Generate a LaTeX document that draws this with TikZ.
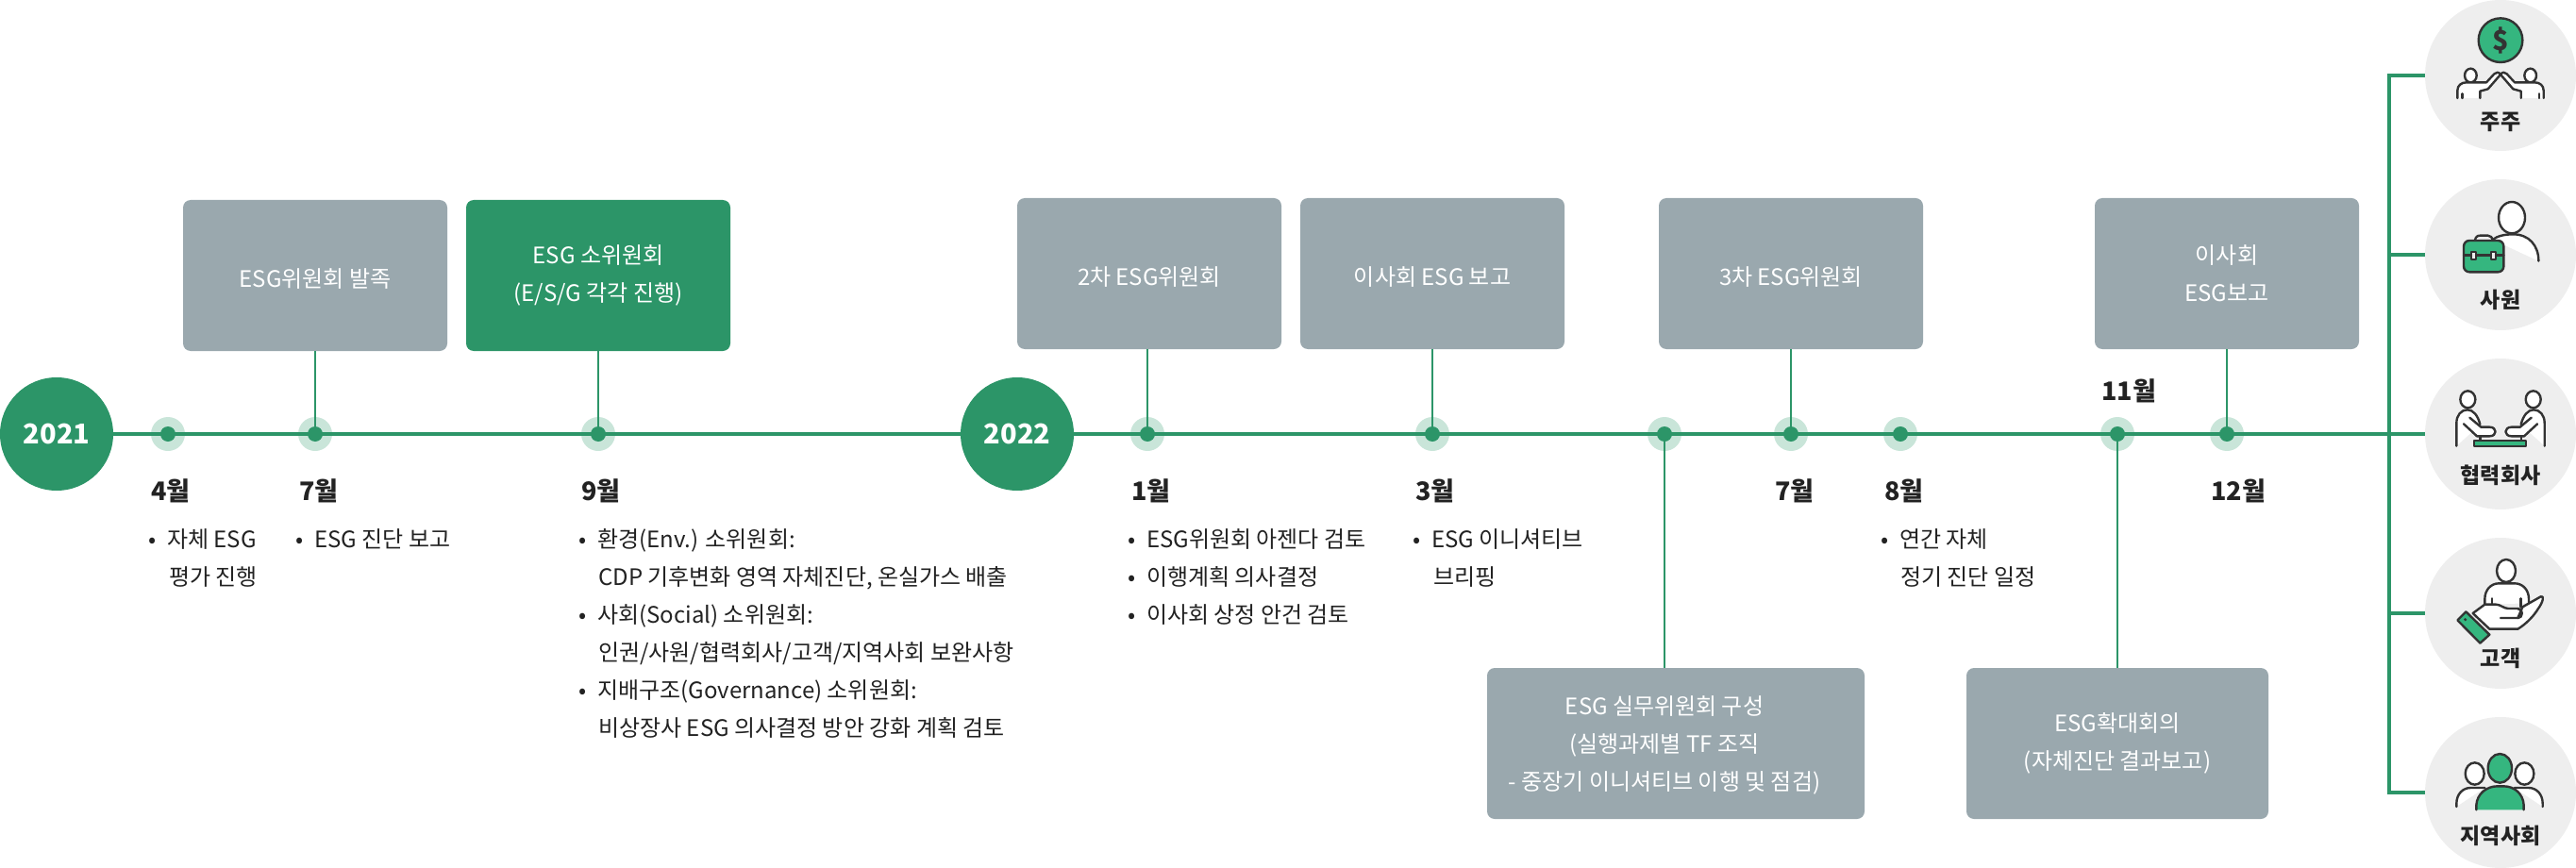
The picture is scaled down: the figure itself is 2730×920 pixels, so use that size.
\documentclass[tikz,border=0pt]{standalone}
\usepackage{fontspec}
\setmainfont{Noto Sans CJK KR}
\definecolor{lineg}{HTML}{2C9568}
\definecolor{haloc}{HTML}{C9E5D9}
\definecolor{boxg}{HTML}{9AA8AE}
\definecolor{circ}{HTML}{EEEEEE}
\definecolor{icong}{HTML}{35B67F}
\definecolor{icons}{HTML}{333333}
\definecolor{inkc}{HTML}{222222}
\tikzset{
  evbox/.style={draw=none,fill=boxg,rounded corners=8pt,minimum width=280pt,minimum height=160pt,inner sep=0pt,text=white,align=center,font=\fontsize{24}{40}\selectfont,execute at begin node={\rule{0pt}{26pt}}},
  evgreen/.style={evbox,fill=lineg},
  boxlab/.style={inner sep=0pt,text=white,align=center,font=\fontsize{24}{40}\selectfont},
  yearc/.style={circle,fill=lineg,minimum size=120pt,inner sep=0pt,text=white,font=\fontsize{29}{36}\selectfont\bfseries},
  halo/.style={circle,fill=haloc,minimum size=36pt,inner sep=0pt},
  dotc/.style={circle,fill=lineg,minimum size=16pt,inner sep=0pt},
  mainl/.style={draw=lineg,line width=4pt},
  conn/.style={draw=lineg,line width=2pt},
  month/.style={anchor=base west,inner sep=0pt,text=inkc,font=\fontsize{27}{32}\selectfont\bfseries},
  itm/.style={anchor=base west,inner sep=0pt,text=inkc,font=\fontsize{24}{32}\selectfont},
  stake/.style={circle,fill=circ,minimum size=160pt,inner sep=0pt},
  stakelab/.style={anchor=base,inner sep=0pt,text=inkc,font=\fontsize{23}{30}\selectfont\bfseries},
  ic/.style={draw=icons,line width=2.4pt,line cap=round,line join=round},
  iw/.style={ic,fill=white},
  ig/.style={ic,fill=icong},
  izoom/.style={x=.33333pt,y=-.33333pt}
}
\newcommand{\bl}{\llap{•\hspace{12pt}}}
\begin{document}
\begin{tikzpicture}[x=1pt,y=-1pt]
\useasboundingbox (0,0) rectangle (2730,920);
% stakeholder circles
\foreach \n/\yy in {1/80,2/270,3/460,4/650,5/840}{
  \node[stake] (c\n) at (2650,\yy) {};
}
% year circles
\node[yearc] (y1) at (60,460) {2021};
\node[yearc] (y2) at (1078,460) {2022};
% halos
\foreach \n/\xx in {a/178,b/334,c/634,d/1216,e/1518,f/1764,g/1898,h/2014,i/2244,j/2360}{
  \node[halo] (h\n) at (\xx,460) {};
}
% boxes
\node[evbox] (b1) at (334,292) {ESG위원회 발족};
\node[evgreen] (b2) at (634,292) {ESG 소위원회\\(E/S/G 각각 진행)};
\node[evbox] (b3) at (1218,290) {2차 ESG위원회};
\node[evbox] (b4) at (1518,290) {이사회 ESG 보고};
\node[evbox] (b5) at (1898,290) {3차 ESG위원회};
\node[evbox] (b6) at (2360,290) {이사회\\ESG보고};
\node[evbox,minimum width=400pt] (b7) at (1776,788) {};
\node[boxlab] (b7t) at (1764,790) {ESG 실무위원회 구성\\(실행과제별 TF 조직\\- 중장기 이니셔티브 이행 및 점검)};
\node[evbox,minimum width=320pt] (b8) at (2244,788) {ESG확대회의\\(자체진단 결과보고)};
% main line
\draw[mainl] (y1.east) -- (y2.west);
\draw[mainl] (y2.east) -- (c3.west);
% dots
\foreach \n in {a,b,c,d,e,f,g,h,i,j}{
  \node[dotc] (d\n) at (h\n) {};
}
% connectors
\draw[conn] (db.center) -- (db.center |- b1.south);
\draw[conn] (dc.center) -- (dc.center |- b2.south);
\draw[conn] (dd.center) -- (dd.center |- b3.south);
\draw[conn] (de.center) -- (de.center |- b4.south);
\draw[conn] (dg.center) -- (dg.center |- b5.south);
\draw[conn] (dj.center) -- (dj.center |- b6.south);
\draw[conn] (df.center) -- (df.center |- b7.north);
\draw[conn] (di.center) -- (di.center |- b8.north);
% stakeholder bus
\coordinate (bt) at (2532,80);
\coordinate (bb) at (2532,840);
\draw[mainl,line cap=butt] (c1.west) -- (bt) -- (bb) -- (c5.west);
\draw[mainl] (bt |- c2.west) -- (c2.west);
\draw[mainl] (bt |- c4.west) -- (c4.west);
% months
\node[month] (m4) at (160,530) {4월};
\node[month] (m7) at (317,530) {7월};
\node[month] (m9) at (616,530) {9월};
\node[month] (n1) at (1199,530) {1월};
\node[month] (n3) at (1500,530) {3월};
\node[month] (n7) at (1881,530) {7월};
\node[month] (n8) at (1997,530) {8월};
\node[month] (n11) at (2227,424) {11월};
\node[month] (n12) at (2343,530) {12월};
% items
\node[itm] (t41) at (177,580) {\bl 자체 ESG};
\node[itm] (t42) at (179,620) {평가 진행};
\node[itm] (t71) at (333,580) {\bl ESG 진단 보고};
\node[itm] (t91) at (633,580) {\bl 환경(Env.) 소위원회:};
\node[itm] (t92) at (634,620) {CDP 기후변화 영역 자체진단, 온실가스 배출};
\node[itm] (t93) at (633,660) {\bl 사회(Social) 소위원회:};
\node[itm] (t94) at (634,700) {인권/사원/협력회사/고객/지역사회 보완사항};
\node[itm] (t95) at (633,740) {\bl 지배구조(Governance) 소위원회:};
\node[itm] (t96) at (634,780) {비상장사 ESG 의사결정 방안 강화 계획 검토};
\node[itm] (u11) at (1215,580) {\bl ESG위원회 아젠다 검토};
\node[itm] (u12) at (1215,620) {\bl 이행계획 의사결정};
\node[itm] (u13) at (1215,660) {\bl 이사회 상정 안건 검토};
\node[itm] (u31) at (1517,580) {\bl ESG 이니셔티브};
\node[itm] (u32) at (1519,620) {브리핑};
\node[itm] (u81) at (2013,580) {\bl 연간 자체};
\node[itm] (u82) at (2014,620) {정기 진단 일정};
% stakeholder labels
\node[stakelab] (l1) at (2650,138) {주주};
\node[stakelab] (l2) at (2650,326) {사원};
\node[stakelab] (l3) at (2650,512) {협력회사};
\node[stakelab] (l4) at (2650,706) {고객};
\node[stakelab] (l5) at (2650,894) {지역사회};
% icon 1
\begin{scope}[shift={(2500,0)},izoom]
  \draw[ig] (450,128) circle[radius=70];
  \node[inner sep=0pt,text=icons,font=\fontsize{29}{30}\selectfont\bfseries] (dollar) at (450,128) {\$};
  \foreach \mir in {1,-1}{
    \begin{scope}[xshift={\mir==1 ? 0pt : 300pt},xscale=\mir]
      \draw[iw] (355,240) ellipse[x radius=19,y radius=22];
      \draw[iw] (313,312) -- (313,288) .. controls (313,272) and (325,262) .. (342,262) -- (405,262) -- (430,235) .. controls (436,229) and (444,228) .. (450,237) -- (410,283) -- (385,290) -- (385,312);
      \draw[ic] (328,298) -- (328,312);
    \end{scope}
  }
\end{scope}
% icon 2
\begin{scope}[shift={(2500,0)},izoom]
  \draw[iw] (486,692) ellipse[x radius=42,y radius=50];
  \draw[iw] (571,830) .. controls (571,780) and (540,745) .. (490,745) .. controls (465,745) and (440,750) .. (425,762);
  \draw[ic,fill=circ] (368,765) -- (372,755) .. controls (375,750) and (380,749) .. (385,749) -- (410,749) .. controls (418,749) and (424,755) .. (425,765);
  \draw[ig,rounded corners=6pt] (333,765) rectangle (460,865);
  \draw[ic] (333,812) -- (460,812);
  \draw[ic,fill=circ,line width=1.8pt] (357,800) rectangle (372,824);
  \draw[ic,fill=circ,line width=1.8pt] (421,800) rectangle (436,824);
\end{scope}
% icon 3
\begin{scope}[shift={(2500,300)},izoom]
  \foreach \mir in {1,-1}{
    \begin{scope}[xshift={\mir==1 ? 0pt : 300pt},xscale=\mir]
      \draw[iw] (346,370) ellipse[x radius=24,y radius=27];
      \draw[iw] (310,518) -- (310,445) .. controls (310,420) and (325,403) .. (345,403) .. controls (362,403) and (378,420) .. (385,450);
      \draw[iw] (352,428) -- (388,458) -- (415,458) .. controls (440,458) and (440,487) .. (415,487) -- (375,487) -- (333,448);
      \draw[ic] (385,488) -- (385,500);
    \end{scope}
  }
  \draw[ig,line width=2.2pt] (367,502) rectangle (530,520);
\end{scope}
% icon 4
\begin{scope}[shift={(2500,600)},izoom]
  \draw[iw] (468,15) ellipse[x radius=30,y radius=36];
  \draw[iw] (400,122) -- (400,105) .. controls (400,75) and (420,55) .. (445,55) -- (495,55) .. controls (520,55) and (540,75) .. (540,105) -- (540,118);
  \draw[iw] (362,150) -- (400,122) -- (435,122) .. controls (450,122) and (460,135) .. (475,135) -- (505,135) .. controls (522,135) and (522,165) .. (505,165) -- (520,130) -- (578,97) .. controls (590,92) and (585,115) .. (570,135) .. controls (555,160) and (530,185) .. (505,200) -- (415,200) -- cycle;
  \draw[ic] (423,103) -- (423,122);
  \draw[ic] (515,103) -- (515,130);
  \draw[ic] (505,135) .. controls (522,135) and (522,165) .. (505,165) -- (450,165);
  \draw[ig] (340,145) -- (415,218) -- (385,245) -- (313,172) -- cycle;
  \fill[icons] (338,170) circle[radius=5];
\end{scope}
% icon 5
\begin{scope}[shift={(2500,600)},izoom]
  \foreach \mir in {1,-1}{
    \begin{scope}[xshift={\mir==1 ? 0pt : 298pt},xscale=\mir]
      \draw[iw] (368,660) ellipse[x radius=30,y radius=35];
      \draw[iw] (310,765) -- (310,755) .. controls (310,725) and (330,705) .. (355,705) -- (400,705);
    \end{scope}
  }
  \draw[ig] (448,643) ellipse[x radius=38,y radius=46];
  \draw[ig] (373,775) -- (373,760) .. controls (375,725) and (405,700) .. (440,700) -- (460,700) .. controls (495,700) and (522,725) .. (524,760) -- (524,775);
\end{scope}
\end{tikzpicture}
\end{document}
